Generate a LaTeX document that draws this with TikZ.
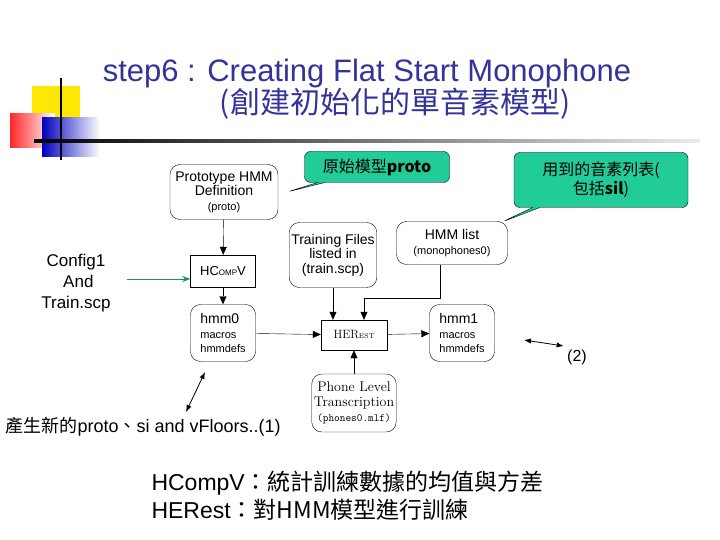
\documentclass[tikz,border=0pt]{standalone}
\usepackage{fontspec}
\setmainfont{Liberation Sans}
\newfontfamily\cjk{Noto Sans CJK TC}
\usetikzlibrary{shapes.callouts,arrows.meta}
\definecolor{titleblue}{HTML}{333399}
\definecolor{callgreen}{HTML}{22CC99}
\newcommand\smalltxt{\fontsize{11}{12}\selectfont}
\tikzset{
  rbox/.style = {draw, rounded corners=10pt, align=center, font=\fontsize{14}{14.5}\selectfont, inner sep=2pt},
  sbox/.style = {draw, align=center, font=\fontsize{13}{14}\selectfont},
  flow/.style = {-{Triangle[length=8pt,width=7pt]}},
  note/.style = {rectangle callout, draw, fill=callgreen, rounded corners=6pt, align=center, font=\cjk\fontsize{16}{19}\selectfont},
  dbl/.style = {{Latex[length=7pt]}-{Latex[length=7pt]}, thick}
}
\begin{document}
\begin{tikzpicture}[x=1pt, y=-1pt]
    \useasboundingbox (0,0) rectangle (720,540);
    % Corner decoration
    \fill [yellow!90!orange] (32,86) rectangle (80,118);
    \shade [left color=red!85, right color=white] (10,114) rectangle (55,148);
    \shade [left color=blue!75!black, right color=white] (42,118) rectangle (100,157);
    \shade [left color=black, right color=gray!15] (34,139.5) rectangle (700,142.5);
    \draw [line width=2.5pt] (61,78) -- (61,160);
    % Title
    \node [titleblue, font=\fontsize{31}{34}\selectfont] (title) at (367,73) {step6 : Creating Flat Start Monophone};
    \node [titleblue, font=\cjk\fontsize{30}{34}\selectfont] (subtitle) at (395,104) {(創建初始化的單音素模型)};
    % Boxes
    \node [rbox, minimum width=108pt, minimum height=55pt] (proto) at (224,192) {Prototype HMM\\Definition\\{\smalltxt(proto)}};
    \node [sbox, minimum width=65pt, minimum height=32pt] (hcompv) at (223,271) {HC{\footnotesize OMP}V};
    \node [rbox, minimum width=65pt, minimum height=57pt, align=left] (hmm0) at (223,333) {hmm0\\{\smalltxt macros}\\{\smalltxt hmmdefs}};
    \node [rbox, minimum width=86pt, minimum height=65pt] (train) at (333,255) {Training Files\\listed in\\(train.scp)};
    \node [rbox, minimum width=111pt, minimum height=43pt] (hmmlist) at (452,243) {HMM list\\{\smalltxt(monophones0)}};
    \node [sbox, font=\fontfamily{lmr}\fontsize{12}{13}\selectfont, minimum width=66pt, minimum height=30pt] (herest) at (354,335) {HER{\scriptsize EST}};
    \node [rbox, minimum width=65pt, minimum height=57pt, align=left] (hmm1) at (462,333) {hmm1\\{\smalltxt macros}\\{\smalltxt hmmdefs}};
    \node [rbox, font=\fontfamily{lmr}\fontsize{14}{15}\selectfont, minimum width=84pt, minimum height=58pt] (phone) at (354,403) {Phone Level\\Transcription\\{\smalltxt\ttfamily(phones0.mlf)}};
    \coordinate (bend) at (440,298);
    % Connectors
    \draw [flow] (proto) -- (hcompv);
    \draw [flow] (hcompv) -- (hmm0);
    \draw [flow] (hmm0) -- (herest);
    \draw [flow] (herest) -- (hmm1);
    \draw [flow] (train) -- (train |- herest.north);
    \draw [flow] (hmmlist.south -| bend) -- (bend) -| ([xshift=10pt]herest.north);
    \draw [flow] (phone) -- (herest);
    % Callouts
    \node [note, minimum width=145pt, minimum height=31pt, callout absolute pointer={(287,192)}] (callproto) at (377,167) {原始模型\textbf{proto}};
    \node [note, minimum width=174pt, minimum height=55pt, callout absolute pointer={(502,222)}] (calllist) at (601,180) {用到的音素列表(\\包括\textbf{sil})};
    % Side notes
    \node [align=center, font=\fontsize{17}{21}\selectfont] (config) at (76,283) {Config1\\\ And\\Train.scp};
    \coordinate (cfgstart) at (127,279);
    \draw [callgreen!70!black, thick, -{Stealth[length=8pt,width=6pt]}] (cfgstart) -- (hcompv.west |- cfgstart);
    \node [font=\fontsize{16}{18}\selectfont] (two) at (577,357) {(2)};
    \draw [dbl] (two.north west) -- (524,340);
    \node [anchor=west, font=\fontsize{18}{20}\selectfont] (newproto) at (2,427) {{\cjk 產生新的}proto{\cjk 、}si and vFloors..(1)};
    \draw [dbl] (205,372) -- (186,412);
    % Bottom text
    \node [anchor=west, align=left, font=\fontsize{23}{28}\selectfont] (legend) at (148,496) {HCompV{\cjk ：統計訓練數據的均值與方差}\\HERest{\cjk ：對HMM模型進行訓練}};
\end{tikzpicture}
\end{document}
